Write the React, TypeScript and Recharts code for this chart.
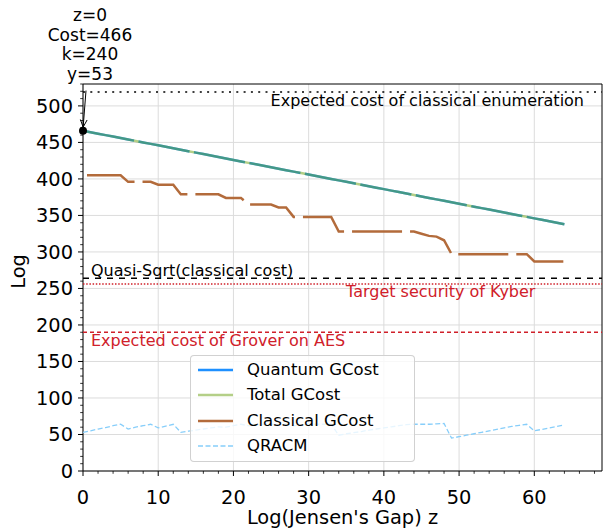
import React from 'react';
import {
  LineChart,
  Line,
  XAxis,
  YAxis,
  CartesianGrid,
  ReferenceLine,
  ReferenceDot,
  ReferenceArea,
} from 'recharts';

// ---------------- data ----------------
const zValues = [
  0, 1, 2, 3, 4, 5, 6, 7, 8, 9, 10, 11, 12, 13, 14, 15, 16, 17, 18, 19, 20, 21, 22, 23, 24, 25, 26, 27, 28, 29, 30, 31,
  32, 33, 34, 35, 36, 37, 38, 39, 40, 41, 42, 43, 44, 45, 46, 47, 48, 49, 50, 51, 52, 53, 54, 55, 56, 57, 58, 59, 60,
  61, 62, 63, 64,
];

const quantumGCost = [
  466, 464, 462, 460, 458, 456, 454, 452, 450, 448, 446, 444, 442, 440, 438, 436, 434, 432, 430, 428, 426, 424, 422,
  420, 418, 416, 414, 412, 410, 408, 406, 404, 402, 400, 398, 396, 394, 392, 390, 388, 386, 384, 382, 380, 378, 376,
  374, 372, 370, 368, 366, 364, 362, 360, 358, 356, 354, 352, 350, 348, 346, 344, 342, 340, 338,
];

const totalGCost = [
  466, 464, 462, 460, 458, 456, 454, 452, 450, 448, 446, 444, 442, 440, 438, 436, 434, 432, 430, 428, 426, 424, 422,
  420, 418, 416, 414, 412, 410, 408, 406, 404, 402, 400, 398, 396, 394, 392, 390, 388, 386, 384, 382, 380, 378, 376,
  374, 372, 370, 368, 366, 364, 362, 360, 358, 356, 354, 352, 350, 348, 346, 344, 342, 340, 338,
];

const classicalGCost = [
  405, 405, 405, 405, 405, 405, 396, 396, 396, 396, 392, 392, 392, 379, 379, 379, 379, 379, 379, 374, 374, 374, 365,
  365, 365, 365, 361, 361, 348, 348, 348, 348, 348, 348, 328, 328, 328, 328, 328, 328, 328, 328, 328, 328, 328, 325,
  322, 321, 316, 297, 297, 297, 297, 297, 297, 297, 297, 297, 297, 297, 287, 287, 287, 287, 287,
];

const qracm = [
  53, 55, 57.5, 59.5, 62, 64, 57.5, 60, 62, 64, 59, 61.5, 64, 53, 54.5, 56, 57.5, 59, 60.5, 60, 62, 64, 62, 63, 64,
  64, 63, 64, 62, 63, 64, 64, 64, 64, 49, 51, 52.5, 54, 56, 57.5, 59, 60.5, 62, 63.5, 64, 64, 64, 64.5, 65, 45, 47,
  49, 51, 53, 55, 57, 59, 61, 62.5, 64, 55, 57, 59, 61, 63,
];

const xMajorTicks = [0, 10, 20, 30, 40, 50, 60];
const xMinorTicks = [
  0, 2, 4, 6, 8, 10, 12, 14, 16, 18, 20, 22, 24, 26, 28, 30, 32, 34, 36, 38, 40, 42, 44, 46, 48, 50, 52, 54, 56, 58,
  60, 62, 64, 66, 68,
];
const yMajorTicks = [0, 50, 100, 150, 200, 250, 300, 350, 400, 450, 500];
const yMinorTicks = [
  0, 10, 20, 30, 40, 50, 60, 70, 80, 90, 100, 110, 120, 130, 140, 150, 160, 170, 180, 190, 200, 210, 220, 230, 240,
  250, 260, 270, 280, 290, 300, 310, 320, 330, 340, 350, 360, 370, 380, 390, 400, 410, 420, 430, 440, 450, 460, 470,
  480, 490, 500, 510, 520, 530,
];

const xDomain = [0, 69];
const yDomain = [0, 530];

const classicalEnumCost = 519;
const quasiSqrtCost = 264;
const kyberTarget = 256;
const groverAesCost = 190;

const annotationPoint = [0, 466];
const annotationLines = ['z=0', 'Cost=466', 'k=240', 'y=53'];

const seriesNames = ['Quantum GCost', 'Total GCost', 'Classical GCost', 'QRACM'];

const data = zValues.map((z, i) => ({
  z,
  quantum: quantumGCost[i],
  total: totalGCost[i],
  classical: classicalGCost[i],
  qracm: qracm[i],
}));

// ---------------- styles ----------------
const FONT = 'DejaVu Sans, sans-serif';
const RED = '#d0202a';
const BLUE = '#1e90ff';
const GREEN = '#6aa010';
const BROWN = '#b36b3b';
const SKY = '#87cefa';

const XTick = (props: any) => {
  const { x, y, payload } = props;
  const v = payload.value;
  const major = xMajorTicks.includes(v);
  return (
    <g>
      <line x1={x} y1={y} x2={x} y2={y + (major ? 5 : 2.8)} stroke="#000" strokeWidth={major ? 1 : 0.8} />
      {major && (
        <text x={x} y={y + 32.5} textAnchor="middle" fontSize={19.4} fontFamily={FONT} fill="#000">
          {v}
        </text>
      )}
    </g>
  );
};

const YTick = (props: any) => {
  const { x, y, payload } = props;
  const v = payload.value;
  const major = yMajorTicks.includes(v);
  return (
    <g>
      <line x1={x} y1={y} x2={x - (major ? 5 : 2.8)} y2={y} stroke="#000" strokeWidth={major ? 1 : 0.8} />
      {major && (
        <text x={x - 10} y={y + 7} textAnchor="end" fontSize={19.4} fontFamily={FONT} fill="#000">
          {v}
        </text>
      )}
    </g>
  );
};

const vbOf = (props: any) => props.viewBox || {};

const XLabel = (props: any) => {
  const vb = vbOf(props);
  return (
    <text x={vb.x + vb.width / 2} y={vb.y + 53} textAnchor="middle" fontSize={19.4} fontFamily={FONT} fill="#000">
      Log(Jensen's Gap) z
    </text>
  );
};

const YLabel = (props: any) => {
  const vb = vbOf(props);
  const cx = vb.x + 10;
  const cy = vb.y + vb.height / 2 - 6;
  return (
    <text
      x={cx}
      y={cy}
      dy="0.36em"
      transform={`rotate(-90 ${cx} ${cy})`}
      textAnchor="middle"
      fontSize={19.4}
      fontFamily={FONT}
      fill="#000"
    >
      Log
    </text>
  );
};

const lineLabel =
  (text: string, color: string, anchor: 'start' | 'end', dx: number, dy: number) => (props: any) => {
    const vb = vbOf(props);
    const x = anchor === 'end' ? vb.x + vb.width - dx : vb.x + dx;
    return (
      <text x={x} y={vb.y + dy} textAnchor={anchor} fontSize={16} fontFamily={FONT} fill={color}>
        {text}
      </text>
    );
  };

const AnnotationLabel = (props: any) => {
  const vb = vbOf(props);
  const cx = (vb.x ?? 71) + (vb.width ?? 8) / 2;
  const cy = (vb.y ?? 126.7) + (vb.height ?? 8) / 2;
  return (
    <g>
      {annotationLines.map((t, i) => (
        <text
          key={i}
          x={cx + 7}
          y={cy - 109.7 + i * 19.6}
          textAnchor="middle"
          fontSize={17}
          fontFamily={FONT}
          fill="#000"
        >
          {t}
        </text>
      ))}
    </g>
  );
};

const legendStyles = [
  { color: BLUE, opacity: 1, dash: undefined as string | undefined, width: 2.5 },
  { color: GREEN, opacity: 0.5, dash: undefined as string | undefined, width: 2.5 },
  { color: BROWN, opacity: 1, dash: undefined as string | undefined, width: 2.5 },
  { color: SKY, opacity: 1, dash: '5 2.5', width: 1.3 },
];

const LegendBox = () => (
  <div
    style={{
      position: 'absolute',
      left: 182,
      top: 355,
      width: 225,
      height: 107,
      boxSizing: 'border-box',
      border: '1px solid rgba(204,204,204,0.9)',
      borderRadius: 4,
      background: 'rgba(255,255,255,0.8)',
      fontFamily: FONT,
      fontSize: 16.5,
      color: '#000',
    }}
  >
    {seriesNames.map((name, i) => {
      const st = legendStyles[i];
      const cy = 13.5 + i * 25.6;
      return (
        <div key={name} style={{ position: 'absolute', left: 0, top: cy - 10, height: 20, width: 222 }}>
          <svg width={50} height={20} style={{ position: 'absolute', left: 0, top: 0 }}>
            <line
              x1={7}
              x2={42}
              y1={10}
              y2={10}
              stroke={st.color}
              strokeOpacity={st.opacity}
              strokeWidth={st.width}
              strokeDasharray={st.dash}
            />
          </svg>
          <span style={{ position: 'absolute', left: 56, top: 0, lineHeight: '20px', whiteSpace: 'nowrap' }}>
            {name}
          </span>
        </div>
      );
    })}
  </div>
);

export default function App() {
  return (
    <div style={{ position: 'relative', top: -8, width: 600, height: 531, fontFamily: FONT }}>
      <LineChart width={600} height={531} data={data} margin={{ top: 84, right: 6, bottom: 8, left: 0 }}>
        <CartesianGrid
          xAxisId="x"
          yAxisId="y"
          stroke="#dcdcdc"
          strokeWidth={1}
          horizontalValues={yMajorTicks}
          verticalValues={xMajorTicks}
        />
        <XAxis
          xAxisId="x"
          dataKey="z"
          type="number"
          domain={xDomain}
          ticks={xMinorTicks}
          interval={0}
          tickSize={0}
          tickMargin={0}
          tick={<XTick />}
          axisLine={false}
          tickLine={false}
          height={52}
          allowDataOverflow
          label={XLabel}
        />
        <YAxis
          yAxisId="y"
          type="number"
          domain={yDomain}
          ticks={yMinorTicks}
          interval={0}
          tickSize={0}
          tickMargin={0}
          tick={<YTick />}
          axisLine={false}
          tickLine={false}
          width={75}
          allowDataOverflow
          label={YLabel}
        />

        <ReferenceLine
          xAxisId="x"
          yAxisId="y"
          y={classicalEnumCost}
          stroke="#000"
          strokeWidth={1.5}
          strokeDasharray="2 5.3"
          label={lineLabel('Expected cost of classical enumeration', '#000', 'end', 18, 14)}
        />
        <ReferenceLine
          xAxisId="x"
          yAxisId="y"
          y={quasiSqrtCost}
          stroke="#000"
          strokeWidth={1.5}
          strokeDasharray="6 6"
          label={lineLabel('Quasi-Sqrt(classical cost)', '#000', 'start', 8, -2.4)}
        />
        <ReferenceLine
          xAxisId="x"
          yAxisId="y"
          y={kyberTarget}
          stroke={RED}
          strokeWidth={1.5}
          strokeDasharray="1.5 1.7"
          label={lineLabel('Target security of Kyber', RED, 'start', 263, 12.7)}
        />
        <ReferenceLine
          xAxisId="x"
          yAxisId="y"
          y={groverAesCost}
          stroke={RED}
          strokeWidth={1.5}
          strokeDasharray="4 3"
          label={lineLabel('Expected cost of Grover on AES', RED, 'start', 8, 13.5)}
        />

        <Line
          xAxisId="x"
          yAxisId="y"
          type="linear"
          dataKey="quantum"
          name={seriesNames[0]}
          stroke={BLUE}
          strokeWidth={2.5}
          strokeDasharray="52 4.5"
          dot={false}
          isAnimationActive={false}
        />
        <Line
          xAxisId="x"
          yAxisId="y"
          type="linear"
          dataKey="total"
          name={seriesNames[1]}
          stroke={GREEN}
          strokeOpacity={0.5}
          strokeWidth={2.5}
          dot={false}
          isAnimationActive={false}
        />
        <Line
          xAxisId="x"
          yAxisId="y"
          type="linear"
          dataKey="classical"
          name={seriesNames[2]}
          stroke={BROWN}
          strokeWidth={2.5}
          strokeDasharray="50 8"
          strokeDashoffset={-4}
          dot={false}
          isAnimationActive={false}
        />
        <Line
          xAxisId="x"
          yAxisId="y"
          type="linear"
          dataKey="qracm"
          name={seriesNames[3]}
          stroke={SKY}
          strokeWidth={1.3}
          strokeDasharray="5 2.5"
          dot={false}
          isAnimationActive={false}
        />

        <ReferenceLine
          xAxisId="x"
          yAxisId="y"
          ifOverflow="visible"
          segment={[
            { x: 0.4, y: 521 },
            { x: 0.02, y: 471 },
          ]}
          stroke="#000"
          strokeWidth={1}
        />
        <ReferenceLine
          xAxisId="x"
          yAxisId="y"
          ifOverflow="visible"
          segment={[
            { x: 0.545, y: 480.7 },
            { x: 0.02, y: 471 },
          ]}
          stroke="#000"
          strokeWidth={1}
        />
        <ReferenceLine
          xAxisId="x"
          yAxisId="y"
          ifOverflow="visible"
          segment={[
            { x: -0.35, y: 481.4 },
            { x: 0.02, y: 471 },
          ]}
          stroke="#000"
          strokeWidth={1}
        />
        <ReferenceDot
          xAxisId="x"
          yAxisId="y"
          x={annotationPoint[0]}
          y={annotationPoint[1]}
          r={4}
          fill="#000"
          stroke="none"
          ifOverflow="visible"
          label={AnnotationLabel}
        />

        <ReferenceArea
          xAxisId="x"
          yAxisId="y"
          x1={xDomain[0]}
          x2={xDomain[1]}
          y1={yDomain[0]}
          y2={yDomain[1]}
          fill="none"
          fillOpacity={0}
          stroke="#000"
          strokeWidth={1}
          ifOverflow="visible"
        />
      </LineChart>
      <LegendBox />
    </div>
  );
}
